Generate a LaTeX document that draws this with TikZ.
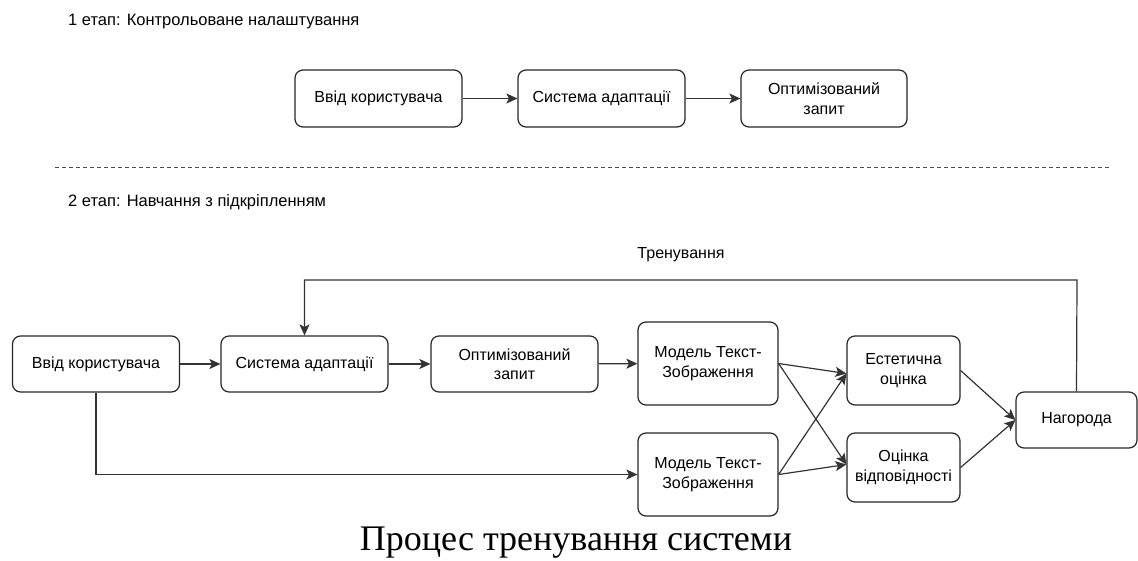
\documentclass[tikz,border=0pt]{standalone}
\usepackage{fontspec}
\setmainfont{Liberation Sans}
\newfontfamily\capfont{Liberation Serif}
\usetikzlibrary{arrows.meta,calc}
\begin{document}
\begin{tikzpicture}[x=1pt,y=-1pt,
  box/.style={draw=black!85,line width=1.2pt,rounded corners=8pt,fill=white,align=center,inner sep=0pt,font=\fontsize{16}{19.5}\selectfont},
  conn/.style={draw=black!80,line width=1.2pt,-{Stealth[length=11pt,width=10pt,inset=2.5pt]}},
  hdr/.style={anchor=west,inner sep=0pt,font=\fontsize{16.5}{19}\selectfont}]
\useasboundingbox (0,0) rectangle (1138,560);
% stage 1
\node[hdr] (h1) at (68,22) {1 етап: Контрольоване налаштування};
\node[box,minimum width=167pt,minimum height=57pt] (a1) at (378.5,98.5) {Ввід користувача};
\node[box,minimum width=167pt,minimum height=57pt] (b1) at (601.5,98.5) {Система адаптації};
\node[box,minimum width=166pt,minimum height=57pt] (c1) at (824,98.5) {Оптимізований\\запит};
\draw[conn] (a1) -- (b1);
\draw[conn] (b1) -- (c1);
% separator
\coordinate (s1) at (55,167);
\coordinate (s2) at (1110,167);
\draw[black!70,line width=0.9pt,dash pattern=on 4pt off 3pt] (s1) -- (s2);
% stage 2
\node[hdr] (h2) at (68,202) {2 етап: Навчання з підкріпленням};
\node[inner sep=0pt,font=\fontsize{16}{19}\selectfont] (tr) at (681,255) {Тренування};
\node[box,minimum width=167pt,minimum height=56pt] (a2) at (96,364) {Ввід користувача};
\node[box,minimum width=167pt,minimum height=56pt] (b2) at (304.5,364) {Система адаптації};
\node[box,minimum width=167pt,minimum height=56pt] (c2) at (514.5,364) {Оптимізований\\запит};
\node[box,minimum width=140pt,minimum height=83pt] (m1) at (708,363.5) {Модель Текст-\\Зображення};
\node[box,minimum width=140pt,minimum height=83pt] (m2) at (708,474.5) {Модель Текст-\\Зображення};
\node[box,minimum width=113pt,minimum height=69pt] (e) at (903.5,370.5) {Естетична\\оцінка};
\node[box,minimum width=113pt,minimum height=69pt] (o) at (903.5,467.5) {Оцінка\\відповідності};
\node[box,minimum width=121pt,minimum height=56pt] (n) at (1076.5,420) {Нагорода};
\draw[conn] (a2) -- (b2);
\draw[conn] (b2) -- (c2);
\draw[conn] (c2) -- (m1);
\draw[conn] (a2.south) |- (m2.west);
\draw[conn] (m1.east) -- ($(e.west)+(0,3)$);
\draw[conn] (m1.east) -- ($(o.west)+(0,-3)$);
\draw[conn] (m2.east) -- ($(e.west)+(0,3)$);
\draw[conn] (m2.east) -- ($(o.west)+(0,-3)$);
\draw[conn] (e.east) -- (n.west);
\draw[conn] (o.east) -- (n.west);
\coordinate (t1) at (1077,280);
\coordinate (t2) at (304.5,280);
\draw[conn] (n.north) -- (t1) -- (t2) -- (b2.north);
% caption
\node[anchor=base,inner sep=0pt,font=\capfont\fontsize{36}{40}\selectfont] (cap) at (576,550) {Процес тренування системи};
\end{tikzpicture}
\end{document}
